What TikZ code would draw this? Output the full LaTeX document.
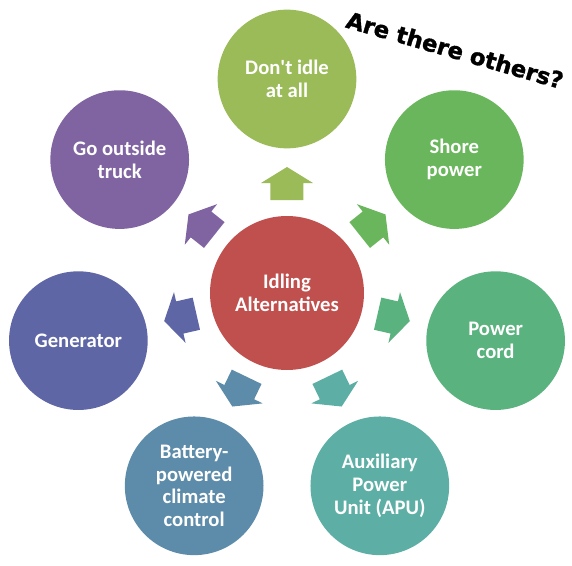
\documentclass[tikz,border=0pt]{standalone}
\usepackage{fontspec}
\setmainfont{Carlito}
\newfontfamily\questionfont[BoldFeatures={FakeBold=1.5}]{DejaVu Sans}
\usepackage{tikz}
\usetikzlibrary{positioning}
\definecolor{hubcolor}{RGB}{192, 80, 77}
\definecolor{idlecolor}{RGB}{155, 187, 89}
\definecolor{shorecolor}{RGB}{106, 182, 92}
\definecolor{cordcolor}{RGB}{90, 178, 126}
\definecolor{apucolor}{RGB}{93, 175, 165}
\definecolor{batterycolor}{RGB}{93, 139, 170}
\definecolor{gencolor}{RGB}{95, 102, 165}
\definecolor{outsidecolor}{RGB}{128, 100, 162}

\begin{document}
\begin{tikzpicture}[
    x=0.75pt, y=0.75pt,
    hub/.style={circle, fill=hubcolor, minimum size=115.5pt, inner sep=0pt, text=white, align=center, font=\bfseries\fontsize{15.5}{17}\selectfont},
    option/.style={circle, minimum size=104pt, inner sep=0pt, text=white, align=center, font=\bfseries\fontsize{15.5}{17}\selectfont},
    blockarrow/.style={rotate=#1, insert path={++(93,-16.5) -- ++(17,0) -- ++(0,-9.5) -- ++(16,26) -- ++(-16,26) -- ++(0,-9.5) -- ++(-17,0) -- cycle}},
    question/.style={font=\questionfont\bfseries\fontsize{17}{20}\selectfont, inner sep=0pt}
]
    \useasboundingbox (-287,-272) rectangle (285,293);

    % Hub and alternatives
    \node[hub] (hub) at (0,0) {Idling\\Alternatives};
    \node[option, fill=idlecolor] (noidle) at (90:214) {Don\textquotesingle t idle\\at all};
    \node[option, fill=shorecolor] (shore) at (38.57:214) {Shore\\power};
    \node[option, fill=cordcolor] (cord) at (-12.86:214) {Power\\cord};
    \node[option, fill=apucolor] (apu) at (-64.29:214) {Auxiliary\\Power\\Unit (APU)};
    \node[option, fill=batterycolor] (battery) at (-115.71:214) {Battery-\\powered\\climate\\control};
    \node[option, fill=gencolor] (generator) at (-167.14:214) {Generator};
    \node[option, fill=outsidecolor] (outside) at (141.43:214) {Go outside\\truck};

    % Block arrows from the hub
    \fill[idlecolor] (hub.center) [blockarrow=90];
    \fill[shorecolor] (hub.center) [blockarrow=38.57];
    \fill[cordcolor] (hub.center) [blockarrow=-12.86];
    \fill[apucolor] (hub.center) [blockarrow=-64.29];
    \fill[batterycolor] (hub.center) [blockarrow=-115.71];
    \fill[gencolor] (hub.center) [blockarrow=-167.14];
    \fill[outsidecolor] (hub.center) [blockarrow=141.43];

    % Question
    \node[question, rotate=-16] (others) at (168,243) {Are there others?};
\end{tikzpicture}
\end{document}
